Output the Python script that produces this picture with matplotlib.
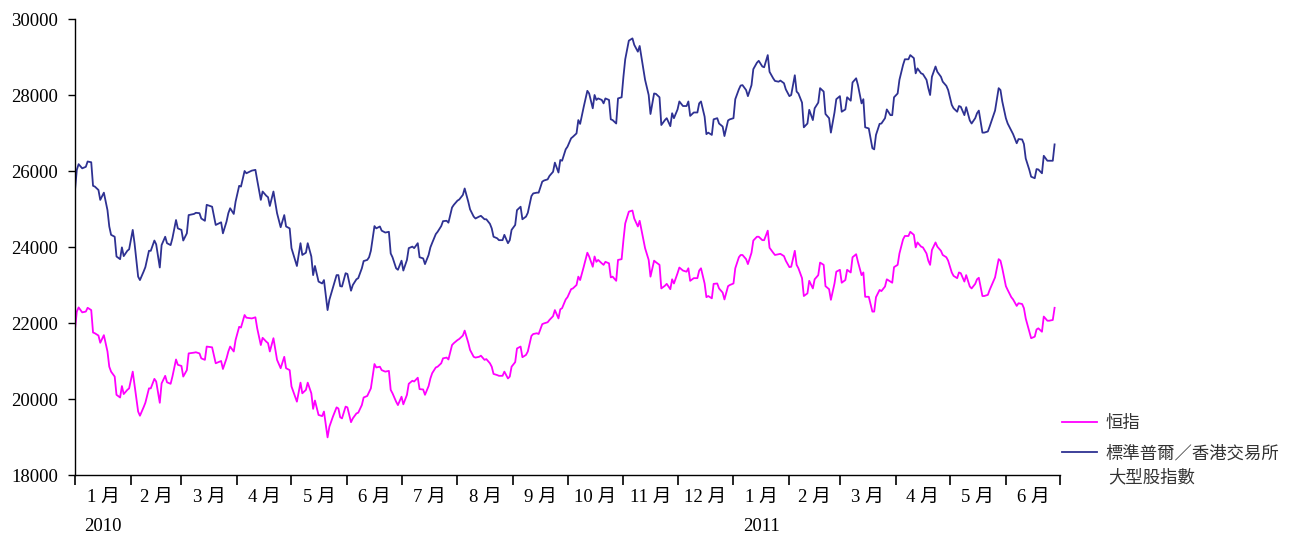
import matplotlib
matplotlib.use('Agg')
import matplotlib.pyplot as plt
import matplotlib.transforms as mtransforms
import pandas as pd

# days counted from 1 Jan 2010
days = [0, 1, 2, 4, 6, 7, 9, 10, 11, 13, 14, 16, 18, 19, 20, 22, 23, 25, 26, 27,
        29, 30, 32, 33, 35, 36, 38, 39, 41, 42, 44, 45, 47, 48, 50, 51, 53, 54, 56, 57,
        59, 60, 62, 63, 66, 67, 69, 70, 72, 73, 76, 78, 81, 82, 84, 85, 86, 88, 89, 91,
        92, 94, 95, 98, 100, 101, 103, 104, 106, 107,
        108, 110, 112, 114, 116, 117, 119, 120, 123, 125, 126, 128, 129, 131, 132, 133, 135, 137, 138, 140,
        141, 143, 145, 146, 147, 148, 150, 151, 153, 154, 156, 157, 159, 160, 162, 163, 164, 166, 167, 169,
        170, 172, 174, 175, 176, 178, 179, 181, 182, 184, 185, 187, 188, 190, 191, 193, 194, 196, 197, 198,
        200, 201, 203, 204, 206, 207, 209, 210, 212, 213, 215, 216, 218, 219, 221, 222, 224, 225, 227, 228,
        230,
        231, 232, 234, 235, 237, 238, 240, 241, 242, 244, 245, 247, 248, 250, 251, 253, 254, 256, 257, 259,
        260, 262, 263, 265, 266, 268, 269, 270, 272, 273, 275, 276, 278, 279, 280, 282, 284, 285, 287, 288,
        289, 290, 292, 293, 294, 296, 297, 298, 300, 301, 303, 304, 305, 307, 309, 310, 312, 313, 315, 316,
        318, 319, 321, 322, 324, 325, 327, 328, 330, 331, 332, 334, 335, 337, 339, 340, 341, 343, 345, 346,
        347, 349, 350, 351, 353, 354, 356, 357, 359, 360, 362, 363, 365, 366, 368, 369, 370, 372, 373, 375,
        376, 378, 379, 381, 382, 384, 385, 387, 388, 390, 391, 393, 394, 396, 397, 399, 400, 401, 403, 404,
        406, 407, 409, 410, 412, 413, 415, 416, 418, 419, 421, 422, 424, 425, 427, 428, 430, 431, 433, 434,
        436, 437, 438, 440, 442, 443, 444, 446, 447, 449, 450, 452,
        453, 454, 456, 457, 459, 460, 462, 463, 465, 466, 467, 469, 470, 472, 473, 474, 475, 477, 478, 480,
        481, 483, 484, 486, 487, 489, 490, 491, 493, 494, 496, 497, 499, 500, 501, 503, 504, 506, 507, 509,
        510, 512, 513, 514, 516, 517, 519, 520, 522, 523, 525, 526, 527, 529, 530, 532, 533, 534, 536, 537,
        539, 540, 542, 543]

hsi = [21830, 22300, 22410, 22280, 22300, 22400, 22340, 21750, 21730, 21670,
       21480, 21680, 21250, 20850, 20720, 20590, 20110, 20040, 20340, 20130,
       20240, 20280, 20720, 20370, 19670, 19560, 19780, 19900, 20280, 20280,
       20530, 20460, 19900, 20410, 20610, 20440, 20400, 20590, 21040, 20900,
       20870, 20590, 20760, 21200, 21220, 21230, 21200, 21070, 21030, 21380,
       21360, 20940, 21000, 20790, 21070, 21250, 21380, 21250, 21550, 21900,
       21880, 22210, 22140, 22120, 22150, 21860, 21420, 21610, 21510, 21470,
       21250, 21600, 21030, 20810, 21110, 20810, 20760, 20330, 19930, 20430,
       20150, 20240, 20430, 20150, 19740, 19960, 19580, 19550, 19670, 18990,
       19270, 19540, 19780, 19750, 19520, 19490, 19800, 19780, 19390, 19490,
       19620, 19640, 19840, 20040, 20080, 20180, 20280, 20920, 20830, 20850,
       20760, 20720, 20740, 20240, 20150, 19930, 19840, 20060, 19860, 20110,
       20400, 20480, 20460, 20560, 20260, 20250, 20110, 20340, 20540, 20680,
       20830, 20850, 20940, 21070, 21090, 21040, 21420, 21470, 21550, 21580,
       21670, 21800, 21480, 21290, 21110, 21090, 21110, 21140, 21030, 21050,
       20940,
       20850, 20660, 20630, 20610, 20610, 20720, 20540, 20590, 20850, 20970,
       21330, 21380, 21100, 21160, 21250, 21660, 21710, 21730, 21710, 21970,
       21990, 22020, 22080, 22180, 22340, 22120, 22360, 22390, 22620, 22680,
       22890, 22910, 23000, 23220, 23130, 23480, 23850, 23750, 23480, 23750,
       23610, 23660, 23570, 23530, 23610, 23570, 23200, 23220, 23110, 23660,
       23680, 24180, 24620, 24930, 24960, 24750, 24540, 24690, 24200, 23970,
       23660, 23220, 23640, 23600, 23530, 22910, 22980, 23030, 22890, 23150,
       23040, 23310, 23460, 23380, 23350, 23440, 23110, 23180, 23180, 23380,
       23440, 23040, 22680, 22710, 22650, 23030, 23040, 22910, 22800, 22620,
       22970, 23000, 23040, 23440, 23730, 23790, 23790, 23680, 23550, 23850,
       24170, 24270, 24270, 24180, 24180, 24430, 23980, 23850, 23790, 23810,
       23820, 23760, 23640, 23470, 23480, 23900, 23530, 23440, 23180, 22710,
       22780, 23110, 22910, 23150, 23260, 23590, 23530, 22970, 22890, 22610,
       23040, 23350, 23400, 23060, 23130, 23400, 23330, 23730, 23810, 23610,
       23260, 23330, 22690, 22690, 22300, 22300, 22680, 22870, 22840, 22960,
       23150, 23090,
       23060, 23470, 23530, 23830, 24200, 24290, 24290, 24400, 24320, 23990,
       24120, 24010, 23990, 23830, 23640, 23530, 23920, 24120, 24010, 23900,
       23790, 23730, 23640, 23330, 23240, 23180, 23330, 23310, 23090, 23260,
       22960, 22910, 23030, 23150, 23190, 22710, 22710, 22740, 22870, 23090,
       23200, 23680, 23640, 23440, 22970, 22870, 22680, 22620, 22450, 22520,
       22500, 22390, 22120, 21770, 21600, 21640, 21830, 21860, 21770, 22170,
       22060, 22060, 22080, 22400]

sp_hkex = [25500, 26030, 26180, 26070, 26110, 26250, 26230, 25610, 25590, 25500,
           25240, 25430, 24970, 24540, 24320, 24270, 23750, 23680, 23990, 23760,
           23900, 23940, 24450, 24100, 23220, 23130, 23350, 23470, 23900, 23900,
           24170, 24070, 23460, 24050, 24270, 24100, 24050, 24230, 24710, 24490,
           24450, 24170, 24360, 24840, 24870, 24900, 24890, 24750, 24690, 25110,
           25060, 24580, 24650, 24360, 24670, 24890, 25020, 24870, 25190, 25610,
           25590, 26000, 25940, 26010, 26030, 25760, 25240, 25460, 25350, 25310,
           25080, 25460, 24890, 24520, 24840, 24540, 24490, 23970, 23500, 24100,
           23790, 23850, 24100, 23750, 23260, 23500, 23090, 23040, 23130, 22340,
           22610, 22940, 23260, 23260, 22970, 22960, 23310, 23290, 22850, 23000,
           23150, 23180, 23440, 23630, 23660, 23730, 23900, 24550, 24490, 24540,
           24430, 24380, 24400, 23830, 23730, 23440, 23400, 23640, 23380, 23660,
           23970, 24010, 23970, 24100, 23730, 23700, 23550, 23790, 23990, 24110,
           24340, 24400, 24550, 24680, 24690, 24640, 25040, 25110, 25220, 25250,
           25370, 25540, 25190, 24990, 24800, 24750, 24800, 24820, 24730, 24730,
           24610,
           24490, 24270, 24230, 24180, 24180, 24320, 24100, 24180, 24450, 24580,
           24970, 25060, 24730, 24800, 24900, 25340, 25410, 25430, 25430, 25720,
           25750, 25780, 25870, 25980, 26220, 25960, 26290, 26270, 26570, 26640,
           26860, 26900, 26990, 27340, 27240, 27690, 28110, 28040, 27650, 28000,
           27870, 27910, 27870, 27780, 27910, 27870, 27360, 27340, 27250, 27910,
           27940, 28480, 28940, 29430, 29490, 29320, 29140, 29290, 28700, 28400,
           28000, 27500, 28040, 28030, 27940, 27210, 27340, 27390, 27180, 27520,
           27390, 27620, 27830, 27710, 27710, 27830, 27450, 27540, 27540, 27780,
           27830, 27430, 26970, 27010, 26950, 27360, 27390, 27250, 27170, 26920,
           27330, 27360, 27390, 27890, 28150, 28250, 28260, 28130, 27970, 28260,
           28680, 28850, 28900, 28750, 28730, 29050, 28610, 28440, 28370, 28350,
           28380, 28310, 28150, 27970, 28000, 28520, 28090, 28040, 27800, 27150,
           27250, 27610, 27340, 27650, 27800, 28180, 28090, 27500, 27390, 27010,
           27540, 27890, 27970, 27560, 27620, 27940, 27850, 28330, 28440, 28260,
           27780, 27890, 27150, 27120, 26600, 26570, 26950, 27240, 27250, 27390,
           27620, 27470,
           27470, 27940, 28040, 28400, 28790, 28940, 28940, 29050, 28970, 28570,
           28700, 28570, 28550, 28400, 28180, 28000, 28480, 28750, 28610, 28480,
           28350, 28240, 28130, 27740, 27650, 27560, 27710, 27690, 27470, 27680,
           27330, 27250, 27390, 27520, 27590, 27010, 27010, 27040, 27170, 27450,
           27590, 28180, 28130, 27830, 27390, 27250, 27060, 26970, 26730, 26840,
           26830, 26710, 26330, 26030, 25850, 25810, 26050, 26040, 25940, 26400,
           26270, 26270, 26270, 26700]

month_labels = ['1 月', '2 月', '3 月', '4 月', '5 月', '6 月', '7 月', '8 月', '9 月',
                '10 月', '11 月', '12 月', '1 月', '2 月', '3 月', '4 月', '5 月', '6 月']
years = ['2010', '2011']
series_names = ['恒指', '標準普爾／香港交易所']

plt.rcParams['font.family'] = ['Liberation Serif', 'Noto Sans CJK TC']

dates = pd.Timestamp('2010-01-01') + pd.to_timedelta(days, unit='D')

fig = plt.figure(figsize=(12.98, 5.36), dpi=100)
ax = fig.add_axes([75 / 1298, 61 / 536, 985 / 1298, 456 / 536])

ax.plot(dates, hsi, color='#FF00FF', lw=1.3, label=series_names[0])
ax.plot(dates, sp_hkex, color='#2E3192', lw=1.3, label=series_names[1])

ax.set_ylim(18000, 30000)
ax.set_yticks(range(18000, 30001, 2000))
ax.tick_params(axis='y', length=5, width=1, pad=7, labelsize=13.5, direction='out')

# month boundaries as ticks, month names centred in between
month_starts = pd.date_range('2010-01-01', '2011-07-01', freq='MS')
mids = month_starts[:-1] + (month_starts[1:] - month_starts[:-1]) / 2
ax.set_xlim(month_starts[0], month_starts[-1])
ax.set_xticks(month_starts)
ax.set_xticklabels([])
ax.set_xticks(mids, minor=True)
ax.set_xticklabels(month_labels, minor=True)
ax.tick_params(axis='x', which='major', length=7, width=1.2, direction='out')
ax.tick_params(axis='x', which='minor', length=0, pad=10, labelsize=13.5)

trans = mtransforms.blended_transform_factory(ax.transData, ax.transAxes)
ax.text(mids[0], -0.114, years[0], transform=trans, ha='center', va='center', fontsize=13.5)
ax.text(mids[12], -0.114, years[1], transform=trans, ha='center', va='center', fontsize=13.5)

for s in ['top', 'right']:
    ax.spines[s].set_visible(False)
for s in ['left', 'bottom']:
    ax.spines[s].set_linewidth(1.0)

leg = fig.legend(loc='upper left', bbox_to_anchor=(1062 / 1298, 1 - 414 / 536),
                 frameon=False, borderpad=0, borderaxespad=0, handlelength=2.0,
                 handletextpad=0.5, labelspacing=0.72,
                 prop={'family': 'Noto Sans CJK TC', 'size': 12.5})
for t in leg.get_texts():
    t.set_color('#333333')
fig.text(1108 / 1298, 1 - 477 / 536, '大型股指數', family='Noto Sans CJK TC',
         fontsize=12.5, color='#333333', va='center')

plt.savefig('out.png', dpi=100)
